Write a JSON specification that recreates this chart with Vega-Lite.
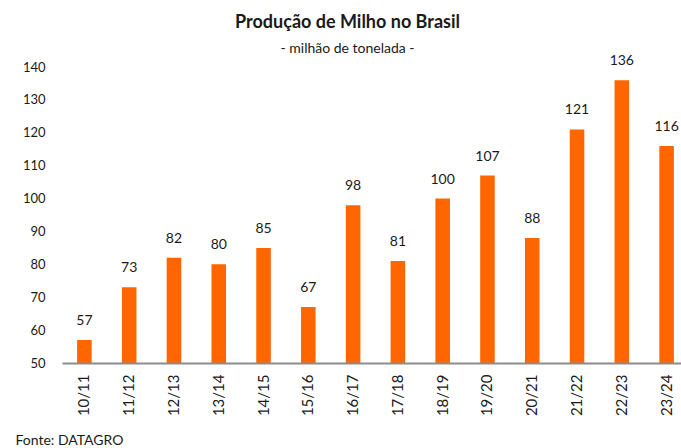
{
  "$schema": "https://vega.github.io/schema/vega-lite/v6.json",
  "autosize": "none",
  "width": 627,
  "height": 296,
  "padding": {"left": 62, "top": 67, "right": 0, "bottom": 85},
  "background": "white",
  "title": {
    "text": "Produção de Milho no Brasil",
    "subtitle": "- milhão de tonelada -",
    "anchor": "middle",
    "dx": -28,
    "offset": -2,
    "font": "Lato",
    "fontSize": 18,
    "fontWeight": "bold",
    "color": "#1a1a1a",
    "subtitleFont": "Lato",
    "subtitleFontSize": 14,
    "subtitleColor": "#1a1a1a",
    "subtitlePadding": 10
  },
  "config": {"view": {"stroke": null}, "font": "Lato"},
  "data": {
    "values": [
      {"safra": "10/11", "producao": 57},
      {"safra": "11/12", "producao": 73},
      {"safra": "12/13", "producao": 82},
      {"safra": "13/14", "producao": 80},
      {"safra": "14/15", "producao": 85},
      {"safra": "15/16", "producao": 67},
      {"safra": "16/17", "producao": 98},
      {"safra": "17/18", "producao": 81},
      {"safra": "18/19", "producao": 100},
      {"safra": "19/20", "producao": 107},
      {"safra": "20/21", "producao": 88},
      {"safra": "21/22", "producao": 121},
      {"safra": "22/23", "producao": 136},
      {"safra": "23/24", "producao": 116}
    ]
  },
  "encoding": {
    "x": {
      "field": "safra",
      "type": "ordinal",
      "sort": null,
      "scale": {"paddingInner": 0.675, "paddingOuter": 0.3375},
      "axis": {
        "title": "Fonte: DATAGRO",
        "titleAnchor": "start",
        "titleAlign": "left",
        "titleBaseline": "middle",
        "titleX": -47,
        "titleY": 77,
        "titleFont": "Lato",
        "titleFontSize": 14,
        "titleFontWeight": "normal",
        "titleColor": "#1a1a1a",
        "labelAngle": 270,
        "labelAlign": "right",
        "labelBaseline": "middle",
        "labelFont": "Lato",
        "labelFontSize": 15,
        "labelColor": "#1a1a1a",
        "labelPadding": 11,
        "ticks": false,
        "domainColor": "#8c8c8c",
        "domainWidth": 2,
        "grid": false,
        "zindex": 1
      }
    },
    "y": {
      "field": "producao",
      "type": "quantitative",
      "scale": {"domain": [50, 140], "nice": false, "zero": false},
      "axis": {
        "title": null,
        "values": [50, 60, 70, 80, 90, 100, 110, 120, 130, 140],
        "labelFont": "Lato",
        "labelFontSize": 13,
        "labelColor": "#1a1a1a",
        "labelPadding": 17,
        "ticks": false,
        "domain": false,
        "grid": false
      }
    }
  },
  "layer": [
    {"mark": {"type": "bar", "color": "#FF6600", "clip": true}},
    {
      "mark": {"type": "text", "baseline": "bottom", "dy": -12, "font": "Lato", "fontSize": 14, "color": "#1a1a1a"},
      "encoding": {"text": {"field": "producao", "type": "quantitative"}}
    }
  ]
}
